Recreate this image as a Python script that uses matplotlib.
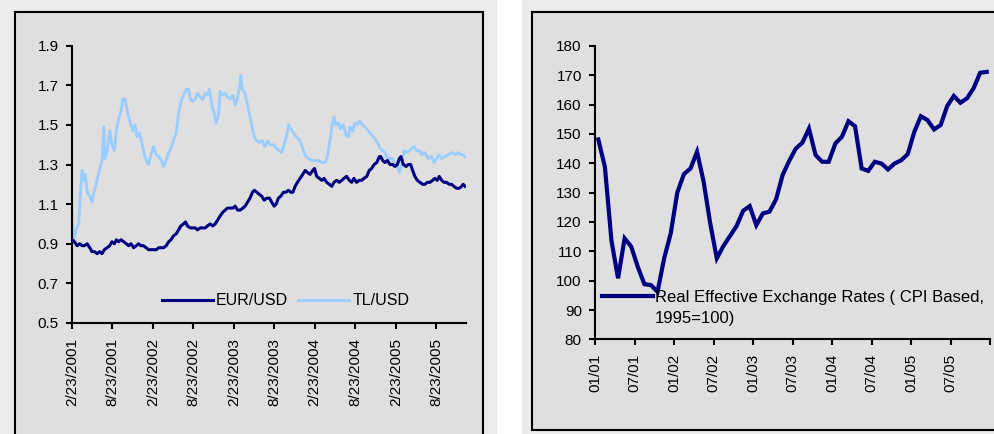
import matplotlib

matplotlib.use("Agg")
import matplotlib.pyplot as plt
import numpy as np
import pandas as pd
from matplotlib.patches import Rectangle

plt.rcParams["font.family"] = ["Liberation Sans", "DejaVu Sans"]

# Exchange rates, sampled from the daily series (days after 23 Feb 2001)
START = "2001-02-23"

eur_days = [
    0, 11, 23, 35, 45, 56, 68, 80, 90, 101, 113, 125, 135, 146, 158, 170, 180,
    191, 200, 210, 221, 233, 245, 255, 266, 278, 290, 300, 311, 323, 334, 346,
    356, 368, 380, 391, 401, 413, 425, 436, 446, 458, 470, 481, 491, 503, 512,
    521, 533, 545, 556, 566, 578, 590, 601, 611, 623, 635, 646, 657, 668, 681,
    691, 702, 714, 726, 736, 747, 759, 771, 781, 792, 803, 814, 823, 834, 844,
    856, 867, 879, 891, 901, 912, 921, 931, 942, 954, 966, 976, 987, 996, 1007,
    1017, 1029, 1041, 1052, 1062, 1074, 1086, 1094, 1104, 1116, 1127, 1137,
    1149, 1161, 1172, 1182, 1194, 1206, 1217, 1227, 1239, 1251, 1262, 1272,
    1284, 1296, 1307, 1317, 1330, 1341, 1352, 1363, 1375, 1387, 1393, 1402,
    1412, 1423, 1435, 1447, 1457, 1468, 1477, 1484, 1495, 1507, 1517, 1528,
    1537, 1547, 1558, 1570, 1582, 1592, 1603, 1615, 1627, 1637, 1648, 1657,
    1668, 1678, 1690, 1702, 1713, 1723, 1735, 1747, 1758, 1765, 1773,
]
eur_usd = [
    0.92, 0.91, 0.89, 0.90, 0.89, 0.89, 0.90, 0.88, 0.86, 0.86, 0.85, 0.86,
    0.85, 0.87, 0.88, 0.89, 0.91, 0.90, 0.92, 0.91, 0.92, 0.91, 0.90, 0.89,
    0.90, 0.88, 0.89, 0.90, 0.89, 0.89, 0.88, 0.87, 0.87, 0.87, 0.87, 0.88,
    0.88, 0.88, 0.89, 0.91, 0.92, 0.94, 0.95, 0.97, 0.99, 1.00, 1.01, 0.99,
    0.98, 0.98, 0.98, 0.97, 0.98, 0.98, 0.98, 0.99, 1.00, 0.99, 1.00, 1.02,
    1.04, 1.06, 1.07, 1.08, 1.08, 1.08, 1.09, 1.07, 1.07, 1.08, 1.09, 1.11,
    1.13, 1.16, 1.17, 1.16, 1.15, 1.14, 1.12, 1.13, 1.13, 1.11, 1.09, 1.10,
    1.13, 1.14, 1.16, 1.16, 1.17, 1.16, 1.16, 1.19, 1.21, 1.23, 1.25, 1.27,
    1.26, 1.25, 1.27, 1.28, 1.24, 1.23, 1.22, 1.23, 1.21, 1.20, 1.19, 1.21,
    1.22, 1.21, 1.22, 1.23, 1.24, 1.22, 1.21, 1.23, 1.21, 1.22, 1.22, 1.23,
    1.24, 1.27, 1.28, 1.30, 1.31, 1.34, 1.34, 1.32, 1.31, 1.32, 1.30, 1.30,
    1.29, 1.30, 1.33, 1.34, 1.30, 1.29, 1.30, 1.30, 1.27, 1.24, 1.22, 1.21,
    1.20, 1.20, 1.21, 1.21, 1.22, 1.23, 1.22, 1.24, 1.22, 1.21, 1.21, 1.20,
    1.20, 1.19, 1.18, 1.18, 1.19, 1.20, 1.19,
]

tl_days = [
    0, 3, 8, 20, 30, 38, 45, 53, 60, 68, 80, 90, 101, 113, 125, 135, 143, 149,
    158, 170, 180, 191, 200, 210, 221, 230, 240, 251, 263, 275, 285, 293, 305,
    315, 326, 338, 346, 356, 368, 379, 391, 403, 413, 424, 436, 446, 458, 470,
    481, 493, 503, 515, 526, 533, 545, 556, 566, 578, 590, 601, 611, 620, 631,
    641, 650, 661, 668, 680, 691, 702, 714, 726, 736, 747, 756, 762, 768, 781,
    792, 801, 811, 822, 834, 846, 858, 870, 882, 894, 909, 924, 936, 946, 957,
    969, 978, 987, 999, 1011, 1022, 1032, 1044, 1056, 1067, 1082, 1097, 1112,
    1127, 1142, 1152, 1164, 1173, 1182, 1191, 1202, 1212, 1224, 1236, 1247,
    1254, 1266, 1277, 1287, 1299, 1311, 1322, 1337, 1352, 1367, 1379, 1390,
    1402, 1412, 1423, 1435, 1447, 1457, 1468, 1477, 1487, 1498, 1510, 1522,
    1532, 1543, 1555, 1567, 1577, 1592, 1607, 1622, 1633, 1645, 1657, 1668,
    1683, 1698, 1713, 1728, 1743, 1758, 1773,
]
tl_usd = [
    1.07, 0.90, 0.92, 0.98, 1.00, 1.15, 1.27, 1.22, 1.25, 1.16, 1.14, 1.11,
    1.17, 1.22, 1.28, 1.32, 1.49, 1.33, 1.36, 1.47, 1.40, 1.37, 1.47, 1.53,
    1.57, 1.63, 1.63, 1.56, 1.51, 1.47, 1.50, 1.44, 1.46, 1.41, 1.35, 1.31,
    1.30, 1.35, 1.39, 1.35, 1.34, 1.32, 1.29, 1.32, 1.36, 1.38, 1.42, 1.46,
    1.56, 1.62, 1.65, 1.68, 1.68, 1.63, 1.62, 1.63, 1.66, 1.64, 1.63, 1.66,
    1.65, 1.68, 1.60, 1.56, 1.51, 1.55, 1.67, 1.65, 1.66, 1.64, 1.63, 1.65,
    1.60, 1.64, 1.69, 1.75, 1.68, 1.66, 1.60, 1.55, 1.50, 1.44, 1.42, 1.41,
    1.42, 1.39, 1.42, 1.40, 1.40, 1.38, 1.37, 1.36, 1.40, 1.45, 1.50, 1.48,
    1.46, 1.44, 1.43, 1.41, 1.37, 1.34, 1.33, 1.32, 1.32, 1.32, 1.31, 1.31,
    1.34, 1.42, 1.50, 1.54, 1.50, 1.51, 1.48, 1.50, 1.45, 1.44, 1.49, 1.47,
    1.51, 1.50, 1.52, 1.50, 1.49, 1.47, 1.45, 1.43, 1.41, 1.38, 1.37, 1.36,
    1.33, 1.33, 1.33, 1.30, 1.29, 1.26, 1.30, 1.37, 1.36, 1.37, 1.38, 1.39,
    1.37, 1.37, 1.35, 1.36, 1.33, 1.34, 1.31, 1.33, 1.35, 1.33, 1.34, 1.35,
    1.36, 1.35, 1.36, 1.35, 1.34,
]

date_ticks = [
    "2/23/2001", "8/23/2001", "2/23/2002", "8/23/2002", "2/23/2003",
    "8/23/2003", "2/23/2004", "8/23/2004", "2/23/2005", "8/23/2005",
]

# Real effective exchange rate, CPI based (1995=100), monthly Jan 2001 - Dec 2005
reer = [
    148.1, 138.8, 113.6, 100.8, 114.4, 111.6, 104.7, 98.8, 98.5, 96.2, 107.6, 116.1,
    130.0, 136.3, 138.2, 143.9, 133.7, 119.5, 107.6, 111.8, 115.2, 118.6, 123.8, 125.4,
    118.9, 122.9, 123.5, 127.7, 136.0, 140.8, 145.0, 147.0, 151.8, 142.8, 140.5, 140.5,
    146.7, 149.0, 154.3, 152.6, 138.2, 137.4, 140.5, 139.9, 137.9, 139.9, 141.0, 143.1,
    150.7, 156.0, 154.7, 151.5, 153.0, 159.5, 162.9, 160.6, 162.1, 165.5, 170.8, 171.1,
]
month_ticks = ["01/01", "07/01", "01/02", "07/02", "01/03", "07/03",
               "01/04", "07/04", "01/05", "07/05", ""]

NAVY = "#000080"
LIGHT_BLUE = "#99ccff"
OUTER = "#ebebeb"
INNER = "#dfdfdf"

fig = plt.figure(figsize=(9.95, 4.34), dpi=100, facecolor="white")

# chart area backgrounds and frames
for x0, w in [(0.0, 0.4995), (0.5246, 0.4754)]:
    fig.patches.append(Rectangle((x0, 0), w, 1, transform=fig.transFigure,
                                 facecolor=OUTER, edgecolor="none", zorder=-3))
fig.patches.append(Rectangle((0.0151, -0.02), 0.4703, 0.9924, transform=fig.transFigure,
                             facecolor=INNER, edgecolor="black", linewidth=1.5, zorder=-2))
fig.patches.append(Rectangle((0.5347, 0.0092), 0.49, 0.9632, transform=fig.transFigure,
                             facecolor=INNER, edgecolor="black", linewidth=1.5, zorder=-2))


def style_axes(ax):
    ax.set_facecolor("none")
    for side in ["top", "right"]:
        ax.spines[side].set_visible(False)
    for side in ["left", "bottom"]:
        ax.spines[side].set_linewidth(1.5)
    ax.tick_params(axis="both", direction="out", length=4.5, width=1.5,
                   labelsize=11, colors="black")
    ax.tick_params(axis="x", pad=6)
    ax.tick_params(axis="y", pad=5)


# left: EUR/USD and TL/USD
ax1 = fig.add_axes([0.0724, 0.2558, 0.396, 0.639])
style_axes(ax1)
start = pd.Timestamp(START)
eur_x = start + pd.to_timedelta(eur_days, unit="D")
tl_x = start + pd.to_timedelta(tl_days, unit="D")
ax1.plot(eur_x, eur_usd, color=NAVY, lw=2.2, label="EUR/USD", zorder=3)
ax1.plot(tl_x, tl_usd, color=LIGHT_BLUE, lw=2.0, label="TL/USD", zorder=2)
ax1.set_ylim(0.5, 1.9)
ax1.set_yticks(np.arange(0.5, 1.91, 0.2))
ax1.yaxis.set_major_formatter(matplotlib.ticker.FormatStrFormatter("%.1f"))
ax1.set_xlim(start, start + pd.Timedelta(days=1778))
ax1.set_xticks(pd.to_datetime(date_ticks, format="%m/%d/%Y"), date_ticks, rotation=90)
ax1.legend(loc="center left", bbox_to_anchor=(0.228, 0.080), ncol=2, frameon=False,
           fontsize=11.5, handlelength=3.2, handletextpad=0.2, columnspacing=0.6,
           borderpad=0, borderaxespad=0)

# right: real effective exchange rate
ax2 = fig.add_axes([0.598, 0.218, 0.397, 0.6765])
style_axes(ax2)
months = np.arange(len(reer)) + 0.5
ax2.plot(months, reer, color=NAVY, lw=3.0, solid_joinstyle="miter",
         label="Real Effective Exchange Rates ( CPI Based,")
ax2.set_ylim(80, 180)
ax2.set_yticks(np.arange(80, 181, 10))
ax2.set_xlim(0, len(reer))
ax2.set_xticks(np.arange(0, len(reer) + 1, 6), month_ticks, rotation=90)
leg2 = ax2.legend(loc="center left", bbox_to_anchor=(0.017, 0.142), frameon=False,
                  fontsize=12, handlelength=3.1, handletextpad=0.1,
                  borderpad=0, borderaxespad=0)
# second line of the legend label, hung under the first one
ax2.annotate("1995=100)", xy=(0, 0), xycoords=leg2.get_texts()[0],
             xytext=(0, -4), textcoords="offset points",
             ha="left", va="top", fontsize=12, zorder=10, annotation_clip=False)

fig.savefig("out.png", dpi=100)
